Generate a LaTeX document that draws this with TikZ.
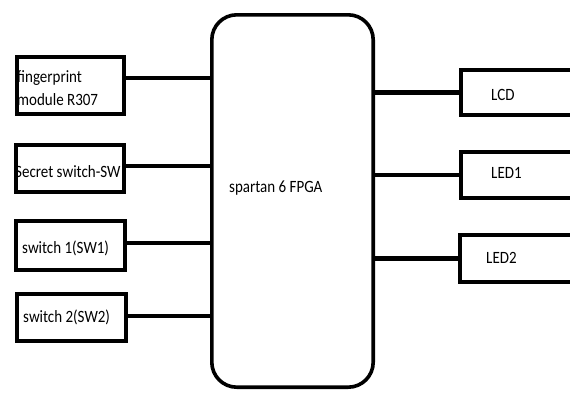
\documentclass[tikz,border=0pt]{standalone}
\usepackage{fontspec}
\setmainfont{Carlito}
\usetikzlibrary{positioning}
\newcommand{\tx}[1]{\scalebox{1}[1.15]{#1}}
\tikzset{blk/.style={draw,rectangle,line width=4.2pt,inner sep=0pt},wire/.style={line width=4.2pt},lbl/.style={anchor=base west,inner sep=0pt,font=\fontsize{15}{23}\selectfont}}
\begin{document}
\begin{tikzpicture}[x=1pt,y=-1pt]
\clip(0,0)rectangle(570,392);
\fill[white](0,0)rectangle(570,392);
\node[draw,line width=3.6pt,rounded corners=25pt,minimum width=161.4pt,minimum height=372.4pt](fpga)at(292.5,201){};
\foreach\n/\x/\y/\w/\h in{fp/70.5/85.5/106.8/56.8,sec/70/168.5/107.8/46.8,sw1/70.5/245.5/108.8/48.8,sw2/71.5/317.5/108.8/46.8,lcd/546.1/92.5/170/44.8,led1/546.1/175/170/45.8,led2/545.1/258.5/170/46.8}\node[blk,minimum width=\w pt,minimum height=\h pt](\n)at(\x,\y){};
\foreach\n/\o in{fp/7.5,sec/2.5,sw1/2.5,sw2/1.5}\draw[wire]([yshift=\o pt]\n.east)coordinate(a)--(a-|fpga.west);
\foreach\n in{lcd,led1,led2}\draw[wire](\n.west)--(\n.west-|fpga.east);
\node[lbl](tfp1)at(17,82){\tx{fingerprint}};\node[lbl](tfp2)at(17,105){\tx{module R307}};
\node[lbl](tsec)at(15,177){\tx{Secret switch-SW}};
\node[lbl](tsw1)at(22,253){\tx{switch 1(SW1)}};
\node[lbl](tsw2)at(23,322){\tx{switch 2(SW2)}};
\node[lbl](tfpga)at(229,192){\tx{spartan 6 FPGA}};
\node[lbl](tlcd)at(491,100){\tx{LCD}};
\node[lbl](tled1)at(491,178){\tx{LED1}};
\node[lbl](tled2)at(486,263){\tx{LED2}};
\end{tikzpicture}
\end{document}
